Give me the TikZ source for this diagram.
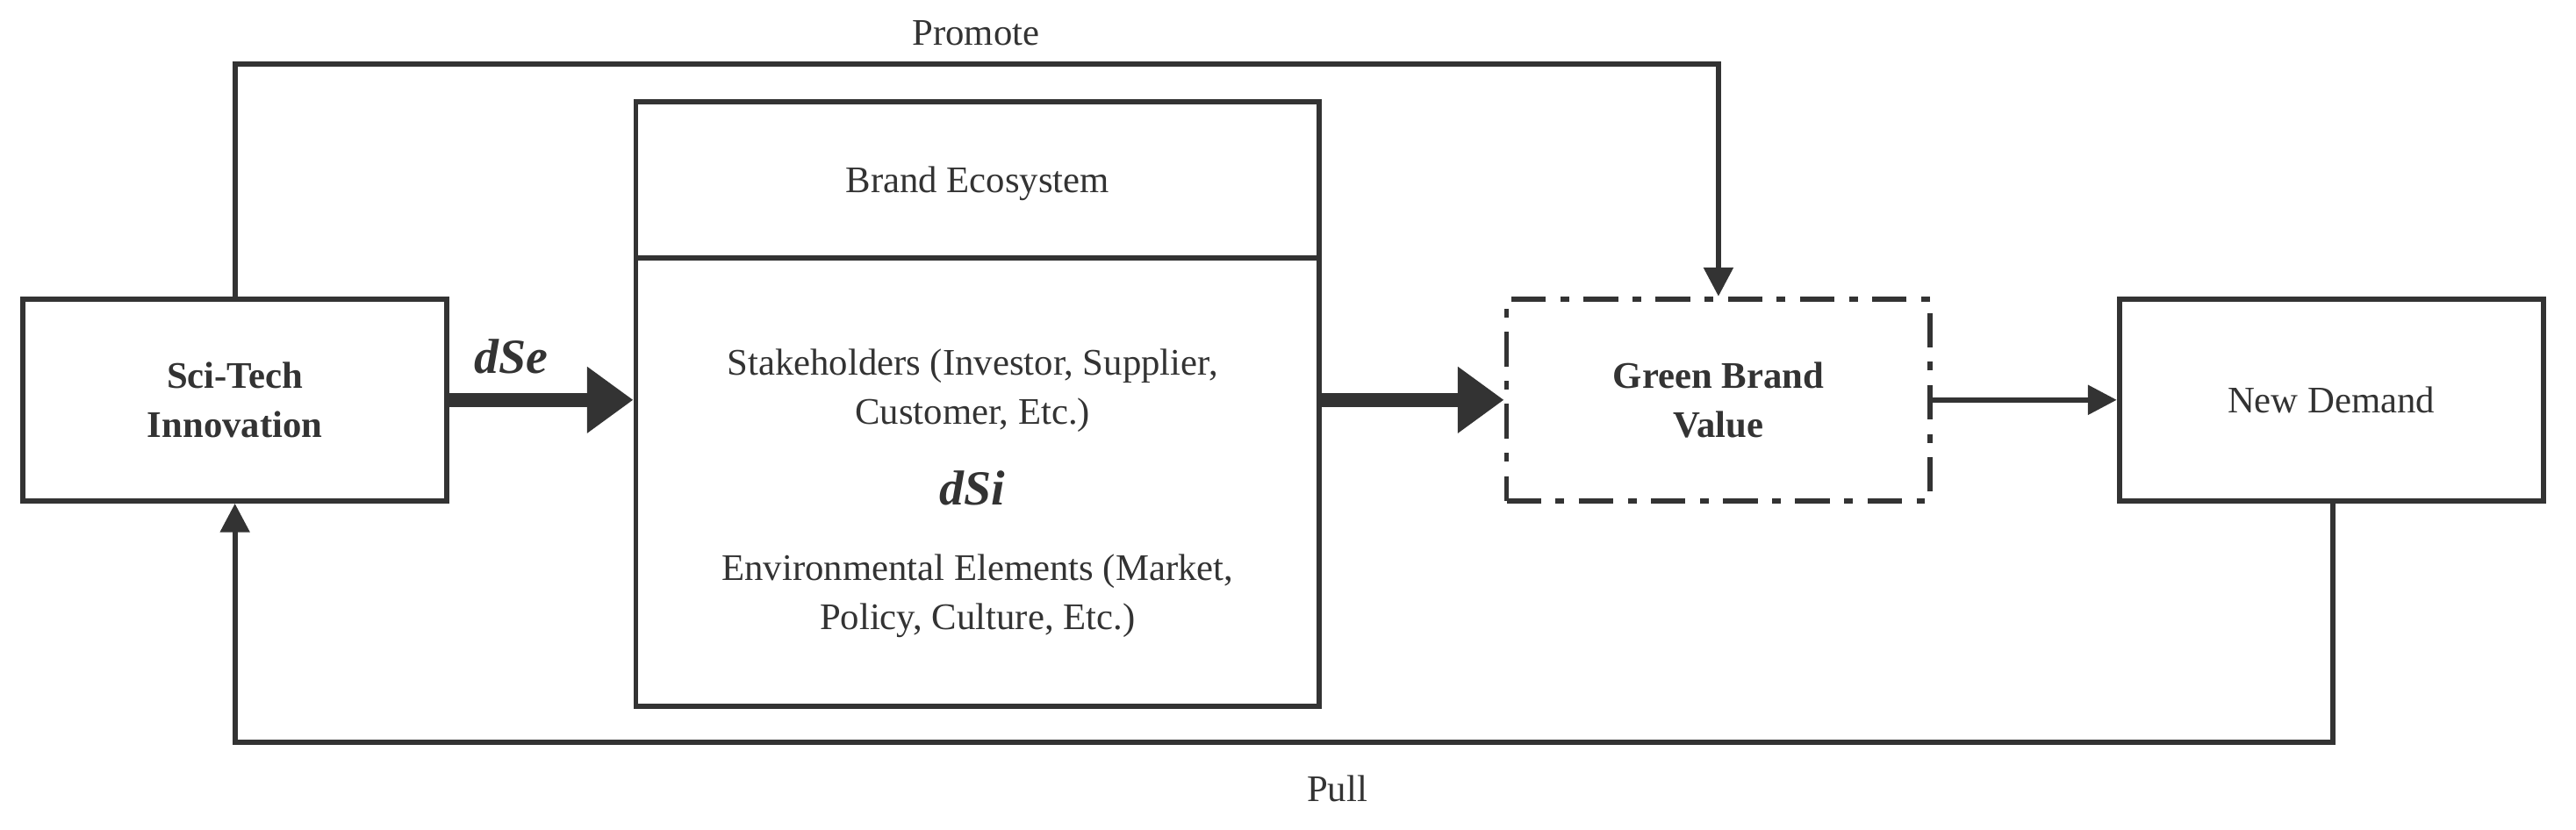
\documentclass[tikz,border=0pt]{standalone}
\usepackage{fontspec}
\setmainfont{Liberation Serif}
\usetikzlibrary{arrows.meta}
\begin{document}
\begin{tikzpicture}[x=0.02cm,y=-0.02cm,
  box/.style={draw=black!80,line width=1.8pt,minimum width=5.16cm,minimum height=2.46cm,align=center,font=\fontsize{13}{17}\selectfont,text=black!80,inner sep=0},
  ln/.style={draw=black!80,line width=1.8pt},
  thick/.style={draw=black!80,line width=5pt,-{Triangle[length=16pt,width=22pt]}},
  thin/.style={ln,-{Triangle[length=10pt,width=10pt]}},
  lab/.style={font=\fontsize{13}{17}\selectfont,text=black!80}]
\useasboundingbox (0,0) rectangle (1568,505);
\node[box,font=\fontsize{13}{17}\selectfont\bfseries] (sci) at (143,243.5) {Sci-Tech\\Innovation};
\node[box,dash pattern=on 12pt off 5pt on 3pt off 5pt] (gbv) at (1046,243.5) {\textbf{Green Brand}\\\textbf{Value}};
\node[box] (nd) at (1419,243.5) {New Demand};
\node[box,minimum width=8.32cm,minimum height=7.36cm] (be) at (595,246) {};
\draw[ln] (387,157) -- (803,157);
\node[lab] (bet) at (595,112) {Brand Ecosystem};
\node[lab,align=center] (st) at (592,238) {Stakeholders (Investor, Supplier,\\Customer, Etc.)};
\node[font=\fontsize{17}{20}\selectfont\bfseries\itshape,text=black!80] (dsi) at (592,297) {dSi};
\node[lab,align=center] (env) at (595,363) {Environmental Elements (Market,\\Policy, Culture, Etc.)};
\draw[thick] (sci.east) -- (be.west|-sci.east);
\node[font=\fontsize{17}{20}\selectfont\bfseries\itshape,text=black!80] (dse) at (311,217) {dSe};
\draw[thick] (be.east|-gbv.west) -- (gbv.west);
\draw[thin] (gbv.east) -- (nd.west);
\coordinate (p1) at (143,39);
\coordinate (p2) at (1046,39);
\draw[thin] (sci.north) -- (p1) -- (p2) -- (gbv.north);
\node[lab] (prom) at (594,20) {Promote};
\coordinate (q1) at (1420,452);
\coordinate (q2) at (143,452);
\draw[thin] (nd.south-|q1) -- (q1) -- (q2) -- (sci.south);
\node[lab] (pull) at (814,480) {Pull};
\end{tikzpicture}
\end{document}
